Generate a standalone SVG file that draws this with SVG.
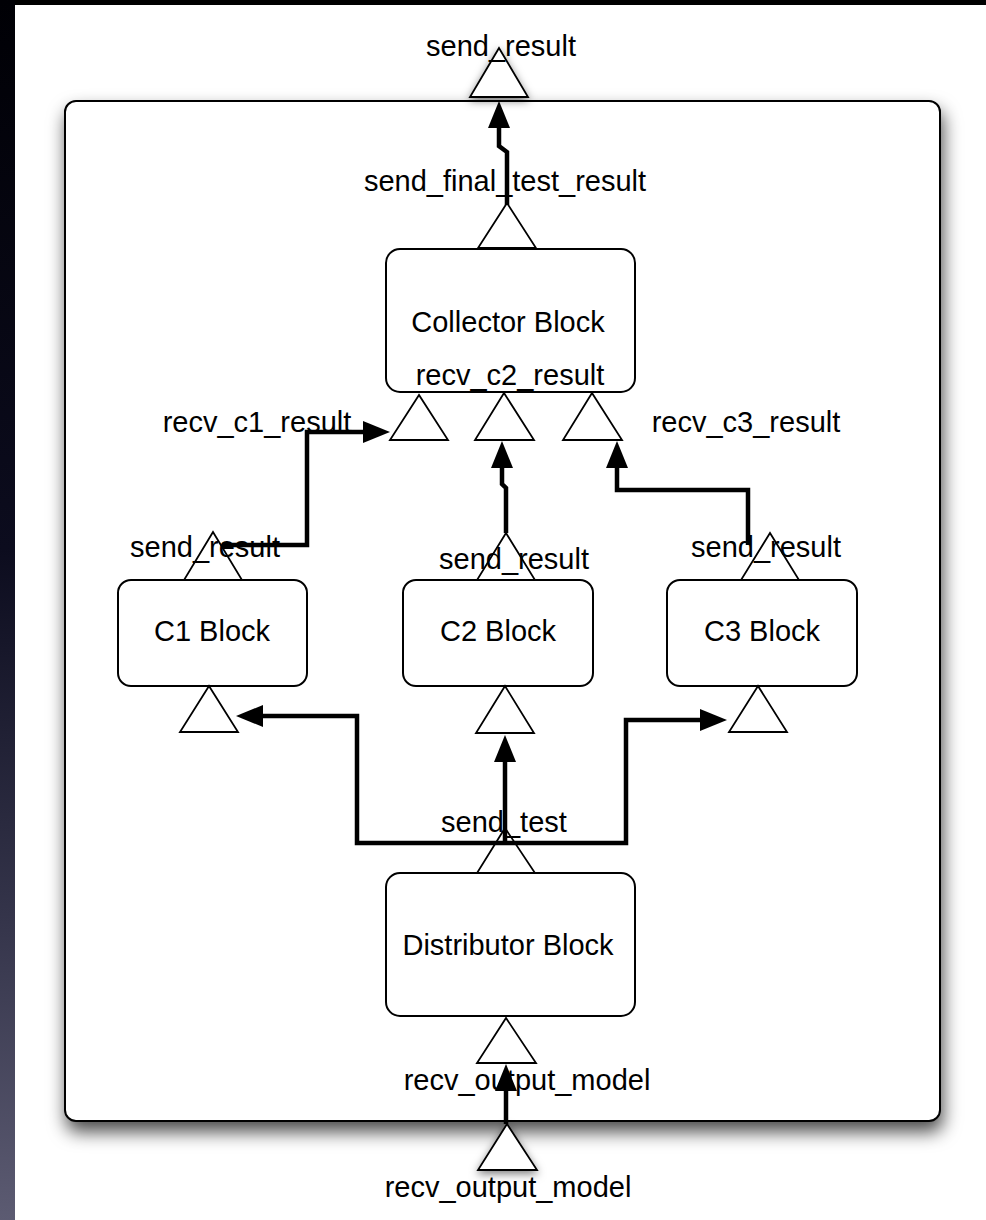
<svg xmlns="http://www.w3.org/2000/svg" width="986" height="1220" viewBox="0 0 986 1220">
<defs>
<linearGradient id="strip" x1="0" y1="0" x2="0" y2="1">
<stop offset="0" stop-color="#000005"/>
<stop offset="0.45" stop-color="#0c0c1e"/>
<stop offset="0.75" stop-color="#34344a"/>
<stop offset="1" stop-color="#5c5b72"/>
</linearGradient>
<filter id="shadow" x="-5%" y="-5%" width="112%" height="115%">
<feDropShadow dx="2" dy="10" stdDeviation="9" flood-color="#000" flood-opacity="0.7"/>
</filter>
<filter id="glow" x="-30%" y="-30%" width="160%" height="160%">
<feDropShadow dx="0" dy="3" stdDeviation="4" flood-color="#000" flood-opacity="0.5"/>
</filter>
<marker id="arrow" markerUnits="userSpaceOnUse" markerWidth="28" markerHeight="24" viewBox="0 0 28 24" refX="2" refY="12" orient="auto">
<path d="M0,1 L27,12 L0,23 z" fill="#000"/>
</marker>
</defs>
<style>
.lbl{font-family:"Liberation Sans",Arial,sans-serif;font-size:29px;fill:#000;text-anchor:middle}
.box{fill:#fff;stroke:#000;stroke-width:2}
.port{fill:#fff;stroke:#000;stroke-width:1.8;stroke-linejoin:miter}
.conn{fill:none;stroke:#000;stroke-width:4.5;stroke-linejoin:miter;marker-end:url(#arrow)}
</style>
<rect x="0" y="0" width="986" height="1220" fill="#fff"/>
<rect x="0" y="0" width="986" height="5" fill="#000"/>
<rect x="0" y="0" width="15" height="1220" fill="url(#strip)"/>

<g id="system">
<rect class="box" x="65" y="101" width="875" height="1020" rx="11" filter="url(#shadow)"/>
<polygon class="port" points="499,48 470,97 528,97" filter="url(#glow)"/>
<text class="lbl" x="501" y="56">send_result</text>
<polygon class="port" points="507,1124 478,1170 537,1170" filter="url(#glow)"/>
<text class="lbl" x="508" y="1197">recv_output_model</text>
</g>

<g id="collector">
<rect class="box" x="386" y="249" width="249" height="143" rx="14"/>
<text class="lbl" x="508" y="332">Collector Block</text>
<text class="lbl" x="510" y="385">recv_c2_result</text>
<polygon class="port" points="507,203 478,248 536,248"/>
<text class="lbl" x="505" y="191">send_final_test_result</text>
<polygon class="port" points="419,395 390,440 448,440"/>
<polygon class="port" points="504,393 475,440 534,440"/>
<polygon class="port" points="592,393 563,440 622,440"/>
<text class="lbl" x="257" y="432">recv_c1_result</text>
<text class="lbl" x="746" y="432">recv_c3_result</text>
</g>

<g id="c1">
<rect class="box" x="118" y="580" width="189" height="106" rx="13"/>
<text class="lbl" x="212" y="641">C1 Block</text>
<polygon class="port" points="213,532 184,580 242,580"/>
<text class="lbl" x="205" y="557">send_result</text>
<polygon class="port" points="209,686 180,732 238,732"/>
</g>

<g id="c2">
<rect class="box" x="403" y="580" width="190" height="106" rx="13"/>
<text class="lbl" x="498" y="641">C2 Block</text>
<polygon class="port" points="506,533 477,580 535,580"/>
<text class="lbl" x="514" y="569">send_result</text>
<polygon class="port" points="505,686 476,733 534,733"/>
</g>

<g id="c3">
<rect class="box" x="667" y="580" width="190" height="106" rx="13"/>
<text class="lbl" x="762" y="641">C3 Block</text>
<polygon class="port" points="770,533 741,580 799,580"/>
<text class="lbl" x="766" y="557">send_result</text>
<polygon class="port" points="758,686 729,732 787,732"/>
</g>

<g id="distributor">
<rect class="box" x="386" y="873" width="249" height="143" rx="14"/>
<text class="lbl" x="508" y="955">Distributor Block</text>
<polygon class="port" points="505,828 477,873 535,873"/>
<text class="lbl" x="504" y="832">send_test</text>
<polygon class="port" points="506,1018 477,1063 536,1063"/>
<text class="lbl" x="527" y="1090">recv_output_model</text>
</g>

<g id="connectors">
<path class="conn" d="M507,205 L507,152 L499,146 L499,126"/>
<path class="conn" d="M222,545 L307,545 L307,432 L365,432"/>
<path class="conn" d="M506,533 L506,488 L502,484 L502,466"/>
<path class="conn" d="M748,545 L748,490 L617,490 L617,466"/>
<path class="conn" d="M505,843 L357,843 L357,716 L261,716"/>
<path class="conn" d="M505,843 L505,760"/>
<path class="conn" d="M505,843 L626,843 L626,720 L702,720"/>
<path class="conn" d="M506,1124 L506,1089"/>
</g>
</svg>
